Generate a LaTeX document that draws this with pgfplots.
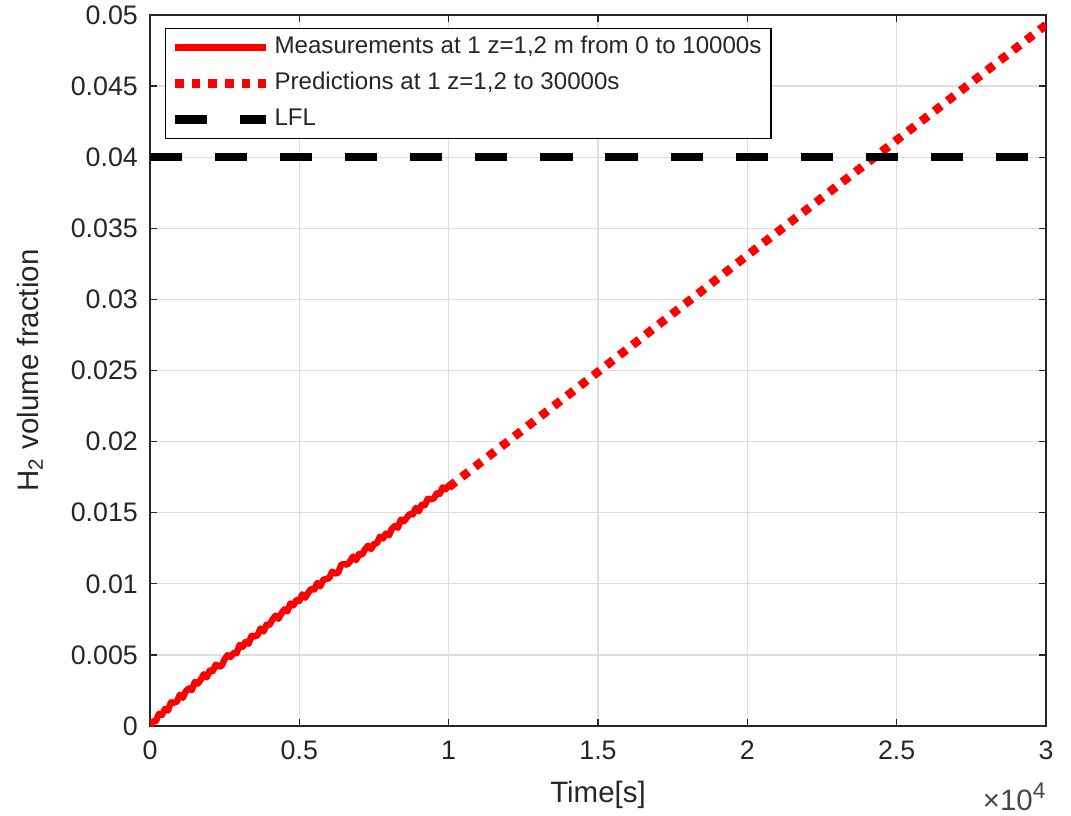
\documentclass[border=0pt]{standalone}
\usepackage{fontspec}
\setmainfont{Liberation Sans}
\usepackage{pgfplots}
\pgfplotsset{compat=1.18}
\definecolor{axgray}{RGB}{38,38,38}
\definecolor{gridgray}{RGB}{222,222,222}
\definecolor{mred}{RGB}{255,0,0}
\begin{document}
\begin{tikzpicture}
\begin{axis}[
  scale only axis, width=334.64pt, height=265.55pt,
  xmin=0, xmax=30000, ymin=0, ymax=0.05,
  xtick={0,5000,10000,15000,20000,25000,30000},
  xticklabels={0,0.5,1,1.5,2,2.5,3},
  ytick={0,0.005,0.01,0.015,0.02,0.025,0.03,0.035,0.04,0.045,0.05},
  yticklabels={0,0.005,0.01,0.015,0.02,0.025,0.03,0.035,0.04,0.045,0.05},
  scaled x ticks=false, scaled y ticks=false,
  tick align=inside, tick pos=both,
  major tick length=2.6pt,
  grid=major,
  grid style={gridgray, line width=0.5pt},
  axis line style={axgray, line width=0.7pt},
  tick style={axgray, line width=0.5pt},
  ticklabel style={font=\fontsize{10}{12}\selectfont, text=axgray},
  xticklabel style={yshift=-2pt},
  yticklabel style={xshift=-1pt},
  xlabel={Time[s]},
  ylabel={H\textsubscript{2} volume fraction},
  label style={font=\fontsize{11}{13}\selectfont, text=axgray},
  xlabel style={at={(axis description cs:0.5,-0.097)}, anchor=center},
  ylabel style={at={(axis description cs:-0.134,0.5)}, anchor=center},
  legend image code/.code={\draw[#1] (0pt,0pt) -- (34pt,0pt);},
  legend cell align=left,
  legend style={at={(axis description cs:0.0167,0.982)}, anchor=north west,
    draw=black, line width=0.5pt, fill=white,
    font=\fontsize{9}{11}\selectfont, text=axgray,
    row sep=1.4pt, inner xsep=2pt, inner ysep=1.0pt,
    nodes={inner xsep=1.5pt, inner ysep=2pt, text height=6.4pt, text depth=1.7pt}},
]
\addplot[mred, line width=2.4pt, line join=round] coordinates {
(0,0.00000) (100,0.00032) (200,0.00034) (300,0.00086) (400,0.00078)
(500,0.00120) (600,0.00108) (700,0.00166) (800,0.00164) (900,0.00172)
(1000,0.00220) (1100,0.00198) (1200,0.00246) (1300,0.00264) (1400,0.00252)
(1500,0.00310) (1600,0.00298) (1700,0.00326) (1800,0.00364) (1900,0.00342)
(2000,0.00390) (2100,0.00386) (2200,0.00432) (2300,0.00418) (2400,0.00424)
(2500,0.00470) (2600,0.00498) (2700,0.00486) (2800,0.00514) (2900,0.00512)
(3000,0.00570) (3100,0.00556) (3200,0.00592) (3300,0.00578) (3400,0.00634)
(3500,0.00630) (3600,0.00638) (3700,0.00686) (3800,0.00664) (3900,0.00712)
(4000,0.00710) (4100,0.00748) (4200,0.00776) (4300,0.00754) (4400,0.00792)
(4500,0.00820) (4600,0.00806) (4700,0.00862) (4800,0.00848) (4900,0.00884)
(5000,0.00880) (5100,0.00926) (5200,0.00902) (5300,0.00938) (5400,0.00964)
(5500,0.00960) (5600,0.01006) (5700,0.00982) (5800,0.01028) (5900,0.01034)
(6000,0.01040) (6100,0.01086) (6200,0.01072) (6300,0.01078) (6400,0.01134)
(6500,0.01140) (6600,0.01134) (6700,0.01158) (6800,0.01192) (6900,0.01166)
(7000,0.01210) (7100,0.01206) (7200,0.01242) (7300,0.01268) (7400,0.01244)
(7500,0.01280) (7600,0.01286) (7700,0.01332) (7800,0.01318) (7900,0.01354)
(8000,0.01340) (8100,0.01388) (8200,0.01406) (8300,0.01394) (8400,0.01452)
(8500,0.01440) (8600,0.01466) (8700,0.01492) (8800,0.01488) (8900,0.01534)
(9000,0.01510) (9100,0.01556) (9200,0.01552) (9300,0.01598) (9400,0.01594)
(9500,0.01600) (9600,0.01636) (9700,0.01632) (9800,0.01678) (9900,0.01664)
(10000,0.01690)
};
\addlegendentry{Measurements at 1 z=1,2 m from 0 to 10000s}
\addplot[mred, line width=3.2pt, dash pattern=on 3.2pt off 3pt] coordinates {
(10000,0.0168) (15000,0.0249) (20000,0.0331) (25000,0.0412) (30000,0.0493)
};
\addlegendentry{Predictions at 1 z=1,2 to 30000s}
\addplot[black, line width=3.2pt, dash pattern=on 12pt off 12.3pt] coordinates {
(0,0.04) (30000,0.04)
};
\addlegendentry{LFL}
\end{axis}
\node[anchor=base east, font=\fontsize{11}{13}\selectfont, text=axgray!85, inner sep=0pt]
  at ([yshift=-31.5pt]current axis.south east) {×10\raisebox{0.75ex}{\fontsize{8.5}{10}\selectfont 4}};
\pgfresetboundingbox
\path (current axis.south west) ++(-56.02pt,-33.24pt) coordinate (bbA);
\path (current axis.north east) ++(9.34pt,5.6pt) coordinate (bbB);
\path[use as bounding box] (bbA) rectangle (bbB);
\end{tikzpicture}
\end{document}
